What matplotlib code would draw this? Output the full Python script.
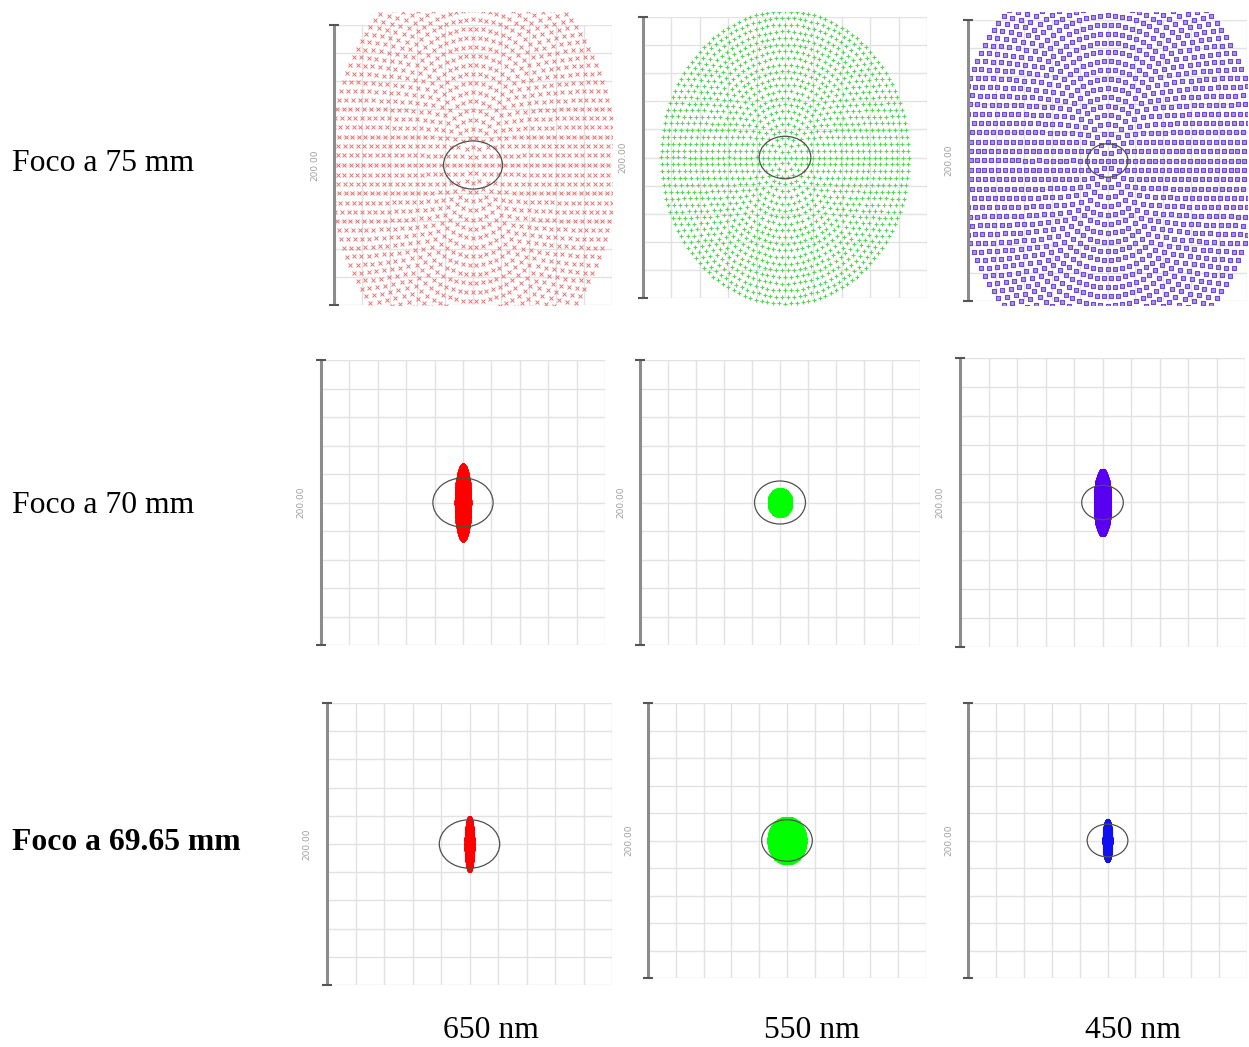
import matplotlib.pyplot as plt
import numpy as np
from matplotlib.patches import Ellipse, Rectangle

W, H = 1249, 1047

wavelengths = ['650 nm', '550 nm', '450 nm']
focus_labels = ['Foco a 75 mm', 'Foco a 70 mm', 'Foco a 69.65 mm']

# spot semi-axes (x, y) in diagram units, one list per focus position
spot_rx = [[102, 87, 108],
           [5.3, 8.1, 5.6],
           [2.9, 13.4, 2.9]]
spot_ry = [[143, 104, 142],
           [26.7, 9.5, 22.8],
           [18.9, 16.7, 15.0]]

# airy disk semi-axes per wavelength
airy_rx = [21.2, 18.2, 14.6]
airy_ry = [17.2, 15.1, 11.9]

scale_label = '200.00'
n_rings = 22

# panel boxes in pixels: left, top, right, bottom
boxes = [[(334, 25, 612, 305), (643, 17, 927, 298), (968, 20, 1247, 301)],
         [(321, 360, 605, 645), (640, 360, 920, 645), (960, 358, 1245, 647)],
         [(327, 703, 612, 985), (648, 703, 926, 978), (968, 703, 1247, 978)]]


def pupil_grid(rings):
    # hexapolar ray sampling of the pupil
    xs, ys = [0.0], [0.0]
    for k in range(1, rings + 1):
        th = np.arange(6 * k) * 2 * np.pi / (6 * k)
        xs.extend(k / rings * np.cos(th))
        ys.extend(k / rings * np.sin(th))
    return np.array(xs), np.array(ys)


px, py = pupil_grid(n_rings)

fig = plt.figure(figsize=(W / 100, H / 100), dpi=100)
fig.patch.set_facecolor('white')

grid_col = '#e2e2e2'
bar_col = '#8c8c8c'

for r in range(3):
    for c in range(3):
        l, t, rr, b = boxes[r][c]
        ax = fig.add_axes([l / W, 1 - b / H, (rr - l) / W, (b - t) / H])
        ax.set_xlim(-100, 100)
        ax.set_ylim(-100, 100)
        ax.axis('off')

        ticks = np.linspace(-100, 100, 11)
        ax.vlines(ticks[1:], -100, 100, color=grid_col, lw=1, zorder=1)
        ax.hlines(ticks, -100, 100, color=grid_col, lw=1, zorder=1)

        # scale bar
        ax.plot([-100, -100], [-100, 100], color=bar_col, lw=2.2, zorder=5,
                clip_on=False, solid_capstyle='butt')
        ax.plot([-100, -100], [-100, 100], ls='none', marker='_', ms=7,
                mew=1.5, color='#555555', zorder=5, clip_on=False)
        ax.text(-0.07, 0.5, scale_label, transform=ax.transAxes, rotation=90,
                ha='center', va='center', fontsize=6.5, color='#a0a0a0',
                family='DejaVu Sans')

        sx = px * spot_rx[r][c]
        sy = py * spot_ry[r][c]
        if r == 0:
            if c == 0:
                sc = ax.scatter(sx, sy, marker='x', s=8, linewidths=0.7,
                                color='#e47676', zorder=3)
            elif c == 1:
                sc = ax.scatter(sx, sy, marker='+', s=8, linewidths=0.8,
                                color='#55da55', zorder=3)
            else:
                sc = ax.scatter(sx, sy, marker='s', s=9, linewidths=0.8,
                                facecolor='#a896e6', edgecolor='#7048d2', zorder=3)
            clip = Rectangle((l / W, 1 - 305 / H), (rr - l) / W, (305 - 12) / H,
                             transform=fig.transFigure)
            sc.set_clip_path(clip)
        else:
            cols = ['#ff0000', '#00ff00', '#5a00f0' if r == 1 else '#1010f0']
            ax.scatter(sx, sy, marker='o', s=5, linewidths=0,
                       color=cols[c], zorder=3)

        ax.add_patch(Ellipse((0, 0), 2 * airy_rx[c], 2 * airy_ry[c],
                             fill=False, edgecolor='#505050', lw=0.9, zorder=4))

row_y = [163, 505, 843]
for i, lab in enumerate(focus_labels):
    fig.text(12 / W, 1 - row_y[i] / H, lab, ha='left', va='center',
             fontsize=22.8, family='Liberation Serif',
             fontweight='bold' if i == 2 else 'normal')

col_x = [491, 812, 1133]
for i, lab in enumerate(wavelengths):
    fig.text(col_x[i] / W, 1 - 1031 / H, lab, ha='center', va='center',
             fontsize=22.8, family='Liberation Serif')

fig.savefig('out.png', dpi=100)
